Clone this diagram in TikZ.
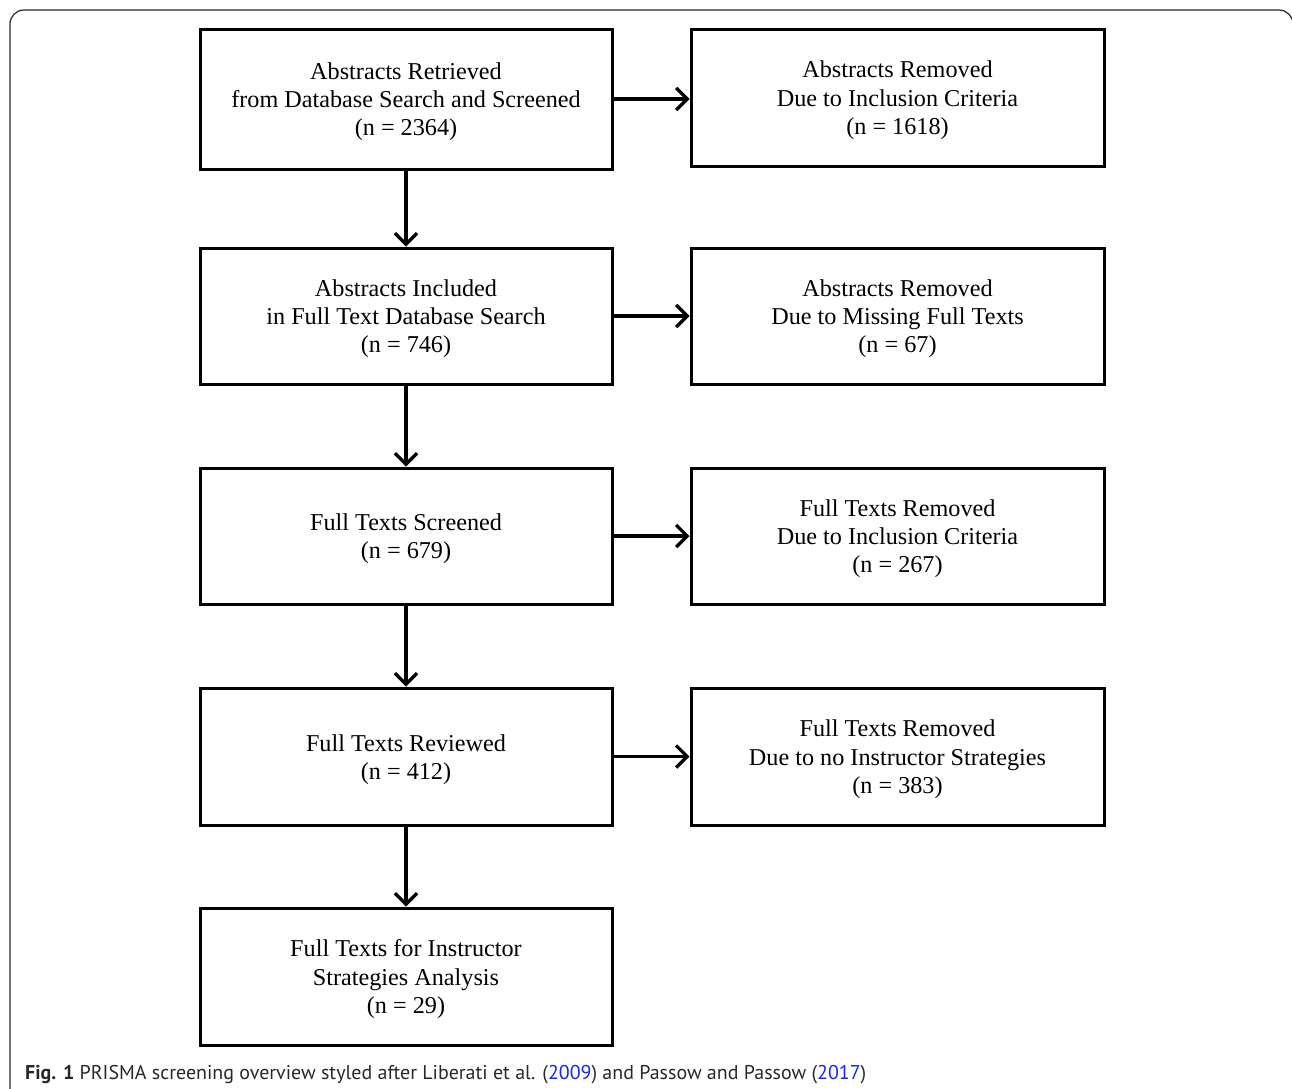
\documentclass[tikz,border=0pt]{standalone}
\usepackage{fontspec}
\setmainfont{Liberation Serif}
\newfontfamily\capfont{PT Sans}
\usetikzlibrary{arrows.meta}
\definecolor{linkblue}{RGB}{20,40,230}
\definecolor{captxt}{RGB}{40,40,40}
\newcommand{\bt}[1]{\raisebox{-3pt}[\height][\depth]{\begin{tabular}{@{}c@{}}#1\end{tabular}}}
\begin{document}
\begin{tikzpicture}[x=1pt,y=-1pt,
  box/.style={draw=black, line width=3pt, align=center, inner sep=0pt,
    font=\fontsize{24.2}{28.3}\selectfont},
  arr/.style={line width=3.3pt, -{Straight Barb[length=11pt,width=22pt,line width=3.3pt]}}]
\useasboundingbox (0,0) rectangle (1292,1088);
\draw[line width=1.2pt, color=black!85, rounded corners=14pt] (10,10) rectangle (1293,1110);
% left column
\node[box, minimum width=412pt, minimum height=140pt] (l1) at (406,99) {\bt{Abstracts Retrieved\\from Database Search and Screened\\(n = 2364)}};
\node[box, minimum width=412pt, minimum height=136pt] (l2) at (406,316) {\bt{Abstracts Included\\in Full Text Database Search\\(n = 746)}};
\node[box, minimum width=412pt, minimum height=136pt] (l3) at (406,536) {\bt{Full Texts Screened\\(n = 679)}};
\node[box, minimum width=412pt, minimum height=137pt] (l4) at (406,756.5) {\bt{Full Texts Reviewed\\(n = 412)}};
\node[box, minimum width=412pt, minimum height=137pt] (l5) at (406,976.5) {\bt{Full Texts for Instructor\\Strategies Analysis\\(n = 29)}};
% right column
\node[box, minimum width=413pt, minimum height=137pt] (r1) at (897.5,97.5) {\bt{Abstracts Removed\\Due to Inclusion Criteria\\(n = 1618)}};
\node[box, minimum width=413pt, minimum height=136pt] (r2) at (897.5,316) {\bt{Abstracts Removed\\Due to Missing Full Texts\\(n = 67)}};
\node[box, minimum width=413pt, minimum height=136pt] (r3) at (897.5,536) {\bt{Full Texts Removed\\Due to Inclusion Criteria\\(n = 267)}};
\node[box, minimum width=413pt, minimum height=137pt] (r4) at (897.5,756.5) {\bt{Full Texts Removed\\Due to no Instructor Strategies\\(n = 383)}};
% arrows
\draw[arr] (l1.south) -- (l2.north);
\draw[arr] (l2.south) -- (l3.north);
\draw[arr] (l3.south) -- (l4.north);
\draw[arr] (l4.south) -- (l5.north);
\draw[arr] (l1.east) -- (r1.west |- l1.east);
\draw[arr] (l2.east) -- (r2.west);
\draw[arr] (l3.east) -- (r3.west);
\draw[arr] (l4.east) -- (r4.west);
% caption
\node[anchor=base west, inner sep=0pt, text=captxt] (cap) at (25,1079) {\resizebox{841pt}{!}{\capfont\fontsize{20}{24}\selectfont\textbf{Fig. 1} PRISMA screening overview styled after Liberati et al. ({\color{linkblue}2009}) and Passow and Passow ({\color{linkblue}2017})}};
\end{tikzpicture}
\end{document}
